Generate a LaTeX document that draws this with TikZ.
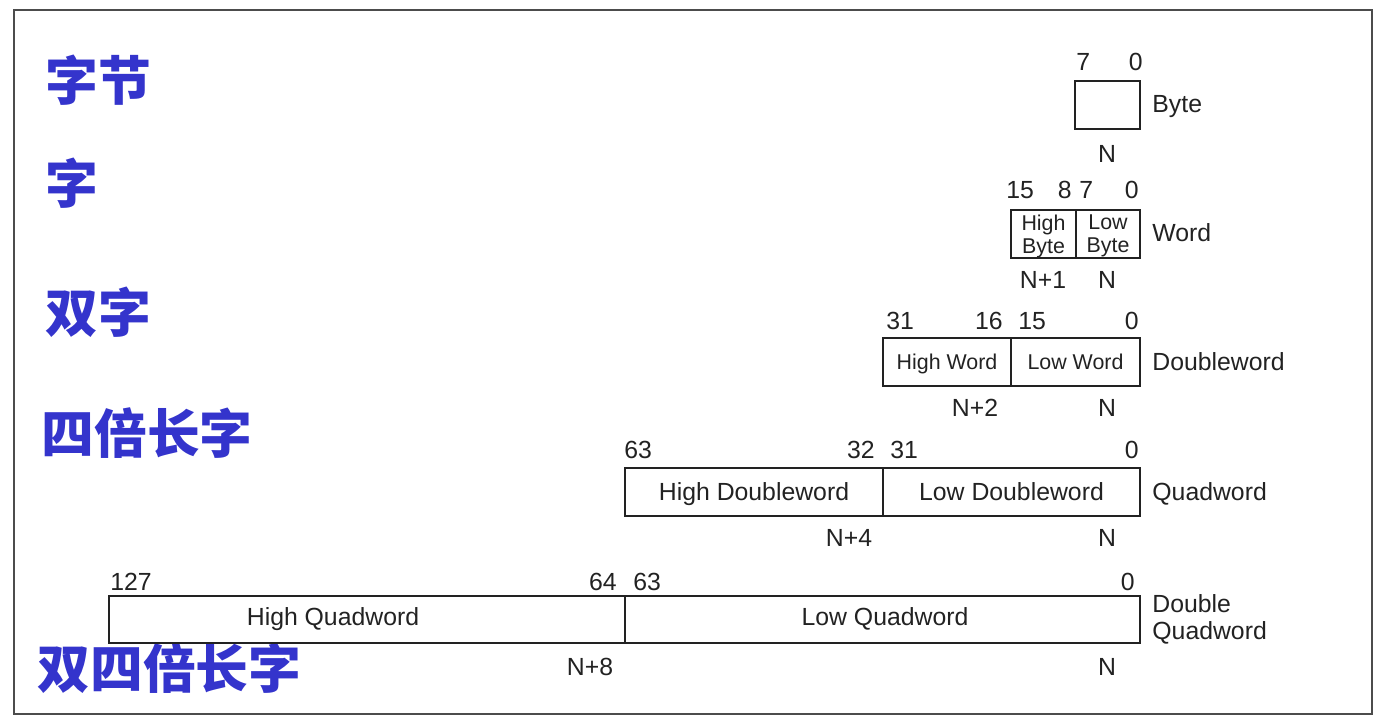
\documentclass[tikz,border=0pt]{standalone}
\usepackage{fontspec}
\setmainfont{Liberation Sans}
\newfontfamily\cjkfont{Noto Sans CJK SC}
\definecolor{cnblue}{RGB}{52,52,204}
\definecolor{ink}{RGB}{34,34,34}
\begin{document}
\begin{tikzpicture}[x=0.5pt,y=-0.5pt,
  txt/.style={inner sep=0pt, text=ink, text depth=0pt, font=\fontsize{12.4}{14}\selectfont},
  capht/.style={text height=8.9pt},
  lbl/.style={txt, capht},
  box/.style={txt, draw=ink, line width=0.9pt, minimum height=24pt},
  cell/.style={box, capht},
  small/.style={font=\fontsize{10.7}{11.5}\selectfont, align=center},
  typename/.style={lbl, anchor=west},
  cn/.style={inner sep=0pt, anchor=west, text=cnblue,
    font=\cjkfont\bfseries\fontsize{26.4}{30}\selectfont},
]
\useasboundingbox (0,0) rectangle (1380,722);
\draw[line width=1pt, draw=black!70] (14,10) rectangle (1372,714);

% Chinese captions
\node[cn] (cbyte) at (45,80)  {字节};
\node[cn] (cword) at (45,183) {字};
\node[cn] (cdw)   at (45,312) {双字};
\node[cn] (cqw)   at (41,433) {四倍长字};
\node[cn] (cdq)   at (37,668) {双四倍长字};

% Byte
\node[cell, minimum width=32.5pt] (b0) at (1107.5,105) {};
\node[lbl, anchor=west] (b7) at (1076,62) {7};
\node[lbl, anchor=east] (bz) at (1143,62) {0};
\node[lbl] (bn) at (1107,154) {N};
\node[typename] (bname) at (1152,104) {Byte};

% Word
\node[box, small, minimum width=32.5pt] (wh) at (1043.5,234) {High\\Byte};
\node[box, small, minimum width=32pt]   (wl) at (1108,234) {Low\\Byte};
\node[lbl, anchor=west] (w15) at (1006,190) {15};
\node[lbl, anchor=east] (w8)  at (1072,190) {8};
\node[lbl, anchor=west] (w7)  at (1079,190) {7};
\node[lbl, anchor=east] (w0)  at (1139,190) {0};
\node[lbl] (wn1) at (1043,280) {N+1};
\node[lbl] (wn)  at (1107,280) {N};
\node[typename] (wname) at (1152,233) {Word};

% Doubleword
\node[cell, small, text height=7.7pt, minimum width=64pt]   (dh) at (947,362) {High Word};
\node[cell, small, text height=7.7pt, minimum width=64.5pt] (dl) at (1075.5,362) {Low Word};
\node[lbl, anchor=west] (d31) at (886,321) {31};
\node[lbl, anchor=east] (d16) at (1003,321) {16};
\node[lbl, anchor=west] (d15) at (1018,321) {15};
\node[lbl, anchor=east] (d0)  at (1139,321) {0};
\node[lbl] (dn2) at (975,408) {N+2};
\node[lbl] (dn)  at (1107,408) {N};
\node[typename] (dname) at (1152,362) {Doubleword};

% Quadword
\node[cell, minimum width=129pt]   (qh) at (754,492) {High Doubleword};
\node[cell, minimum width=128.5pt] (ql) at (1011.5,492) {Low Doubleword};
\node[lbl, anchor=west] (q63) at (624,450) {63};
\node[lbl, anchor=east] (q32) at (875,450) {32};
\node[lbl, anchor=west] (q31) at (890,450) {31};
\node[lbl, anchor=east] (q0)  at (1139,450) {0};
\node[lbl] (qn4) at (849,538) {N+4};
\node[lbl] (qn)  at (1107,538) {N};
\node[typename] (qname) at (1152,492) {Quadword};

% Double Quadword
\node[cell, minimum width=258pt, minimum height=23.5pt]   (xh) at (367,619.5) {};
\node[cell, minimum width=257.5pt, minimum height=23.5pt] (xl) at (882.5,619.5) {};
\node[lbl] (xht) at (333,617) {High Quadword};
\node[lbl] (xlt) at (885,617) {Low Quadword};
\node[lbl, anchor=west] (x127) at (110,582) {127};
\node[lbl, anchor=east] (x64)  at (617,582) {64};
\node[lbl, anchor=west] (x63)  at (633,582) {63};
\node[lbl, anchor=east] (x0)   at (1135,582) {0};
\node[lbl] (xn8) at (590,667) {N+8};
\node[lbl] (xn)  at (1107,667) {N};
\node[txt, anchor=west, align=left, font=\fontsize{12.4}{13.5}\selectfont] (xname) at (1152,617) {Double\\Quadword};
\end{tikzpicture}
\end{document}
